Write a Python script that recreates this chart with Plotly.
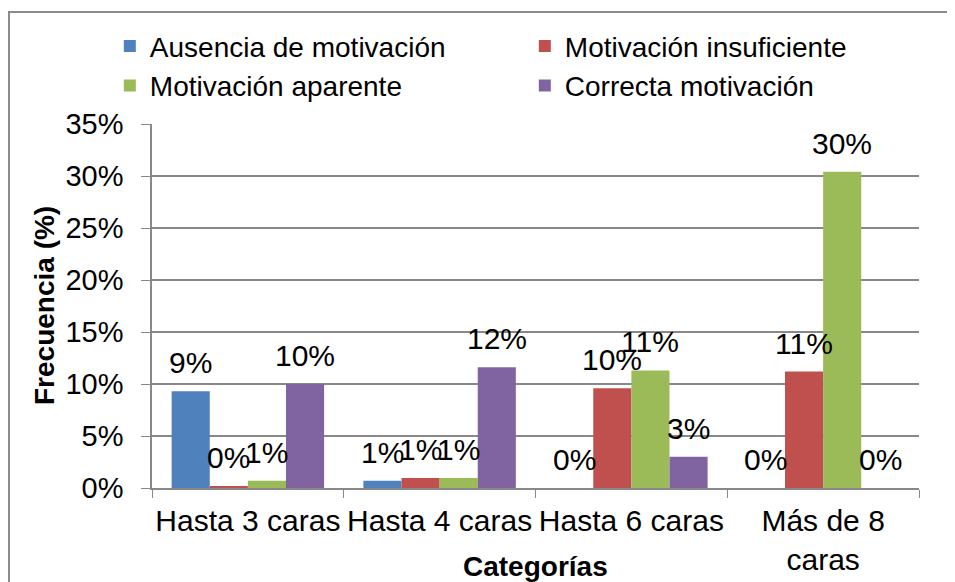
import plotly.graph_objects as go

categorias = ["Hasta 3 caras", "Hasta 4 caras", "Hasta 6 caras", "Más de 8<br>caras"]

ausencia = [0.093, 0.007, 0.0, 0.0]
insuficiente = [0.002, 0.0095, 0.096, 0.112]
aparente = [0.007, 0.0095, 0.113, 0.304]
correcta = [0.100, 0.116, 0.030, 0.0]

series = [
    ("Ausencia de motivación", ausencia, "#4F81BD"),
    ("Motivación insuficiente", insuficiente, "#C0504D"),
    ("Motivación aparente", aparente, "#9BBB59"),
    ("Correcta motivación", correcta, "#8064A2"),
]

fuente = "Arial, Liberation Sans, sans-serif"
fs = 30

# la pagina deja 8px de margen en el body
W, H = 947, 574
ml, mr, mt, mb = 144, 36, 116, 94
pw = W - ml - mr
ph = H - mt - mb
bargap = 0.205
ancho_barra = pw / len(categorias) * (1 - bargap) / len(series)

fig = go.Figure()
for i, (nombre, vals, color) in enumerate(series):
    fig.add_trace(go.Bar(
        x=categorias, y=vals, name=nombre,
        marker=dict(color=color, line=dict(width=0)),
    ))
    # etiquetas de datos encima de cada barra
    for cat, v in zip(categorias, vals):
        fig.add_annotation(
            x=cat, y=v, xref="x", yref="y", text=f"{v:.0%}",
            showarrow=False, yanchor="bottom",
            xshift=(i - 1.5) * ancho_barra, yshift=10,
            font=dict(size=fs, color="black"),
        )

fig.update_layout(
    width=W, height=H,
    margin=dict(l=ml, r=mr, t=mt, b=mb, autoexpand=False),
    paper_bgcolor="white", plot_bgcolor="white",
    font=dict(family=fuente, size=fs, color="black"),
    barmode="group", bargap=bargap, bargroupgap=0,
    showlegend=True,
    legend=dict(
        orientation="h", x=-0.055, y=1.282, xanchor="left", yanchor="top",
        entrywidth=370, font=dict(size=28), traceorder="normal",
        bgcolor="rgba(0,0,0,0)",
    ),
)

fig.update_xaxes(
    showline=True, linecolor="#888888", linewidth=1.5,
    ticks="outside", tickson="boundaries", ticklen=8, tickcolor="#888888",
    tickfont=dict(size=fs), ticklabelstandoff=5, tickangle=0,
)
fig.update_yaxes(
    range=[0, 0.35], dtick=0.05, tickformat=".0%",
    showline=True, linecolor="#888888", linewidth=1.5,
    ticks="outside", ticklen=9, tickcolor="#888888",
    showgrid=True, gridcolor="#888888", gridwidth=1.5,
    zeroline=False, tickfont=dict(size=29), ticklabelstandoff=12,
)

# titulos de ejes
fig.add_annotation(text="<b>Categorías</b>", xref="paper", yref="paper",
                   x=0.5, y=(ph - 558 + mt) / ph, yanchor="middle",
                   showarrow=False, font=dict(size=28))
fig.add_annotation(text="<b>Frecuencia (%)</b>", xref="paper", yref="paper",
                   x=(36 - ml) / pw, y=0.5, textangle=-90,
                   xanchor="center", yanchor="middle",
                   showarrow=False, font=dict(size=28))

# marco del grafico
fig.add_shape(type="rect", xref="paper", yref="paper",
              x0=(1 - ml) / pw, x1=(960 - ml) / pw,
              y0=(ph + mt - 590) / ph, y1=(ph + mt - 4) / ph,
              line=dict(color="#8c8c8c", width=2), fillcolor="rgba(0,0,0,0)",
              layer="below")

fig.write_html("out.html")
